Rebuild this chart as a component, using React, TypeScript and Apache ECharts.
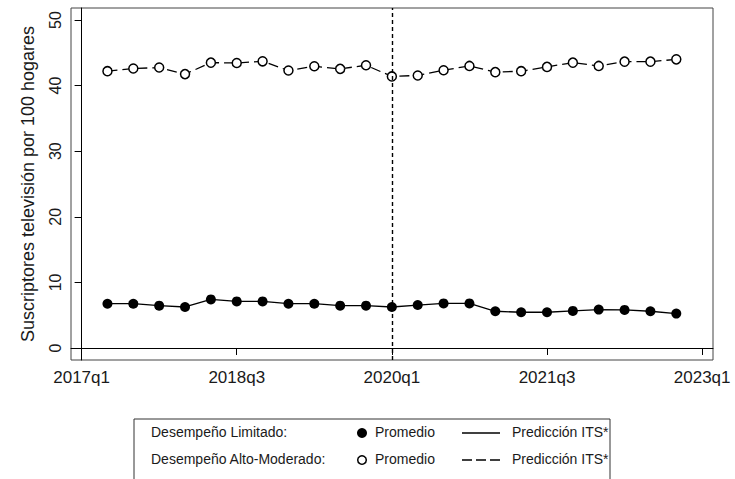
import React, { useEffect, useRef } from "react";
import * as echarts from "echarts";

// Quarters observed (2017q2 .. 2022q4)
const quarters = [
  "2017q2", "2017q3", "2017q4", "2018q1", "2018q2", "2018q3", "2018q4",
  "2019q1", "2019q2", "2019q3", "2019q4", "2020q1", "2020q2", "2020q3",
  "2020q4", "2021q1", "2021q2", "2021q3", "2021q4", "2022q1", "2022q2",
  "2022q3", "2022q4",
];

// Desempeño Limitado: promedio (filled circles)
const limitado = [
  6.75, 6.75, 6.45, 6.25, 7.4, 7.1, 7.1, 6.75, 6.75, 6.45, 6.45, 6.25,
  6.55, 6.8, 6.8, 5.6, 5.45, 5.45, 5.65, 5.85, 5.8, 5.6, 5.25,
];

// Desempeño Alto-Moderado: promedio (open circles)
const altoModerado = [
  42.2, 42.6, 42.75, 41.75, 43.5, 43.45, 43.7, 42.3, 42.95, 42.55, 43.1, 41.4,
  41.55, 42.35, 43.0, 42.05, 42.2, 42.85, 43.5, 43.0, 43.65, 43.65, 44.0,
];

// Predicción ITS lines
const prediccionLimitado = limitado;
const prediccionAltoModerado = altoModerado;

const xTickLabels = ["2017q1", "2018q3", "2020q1", "2021q3", "2023q1"];
const yTickValues = [0, 10, 20, 30, 40, 50];
const interventionQuarter = "2020q1";

const qIndex = (s: string) => {
  const y = parseInt(s.slice(0, 4), 10);
  const q = parseInt(s.slice(5), 10);
  return (y - 2017) * 4 + (q - 1);
};

const FONT = "'Liberation Sans', Arial, Helvetica, sans-serif";
const TXT = "#1a1a1a";

export default function App() {
  const ref = useRef<HTMLDivElement>(null);

  useEffect(() => {
    if (!ref.current) return;
    const chart = echarts.init(ref.current, undefined, { renderer: "svg" });

    const pts = (arr: number[]) => quarters.map((q, i) => [qIndex(q), arr[i]]);
    const xTicks = xTickLabels.map(qIndex);

    const legendRow = (y: number, filled: boolean, dashed: boolean, label: string) => [
      {
        type: "text",
        left: 151,
        top: y - 8,
        style: { text: label, font: `14px ${FONT}`, fill: TXT },
      },
      {
        type: "circle",
        shape: { cx: 362, cy: y, r: filled ? 5 : 4.3 },
        style: filled
          ? { fill: "#000" }
          : { fill: "#fff", stroke: "#000", lineWidth: 1.5 },
      },
      {
        type: "text",
        left: 375,
        top: y - 8,
        style: { text: "Promedio", font: `14px ${FONT}`, fill: TXT },
      },
      {
        type: "line",
        shape: { x1: 462, y1: y, x2: 500, y2: y },
        style: { stroke: "#000", lineWidth: 1.3, lineDash: dashed ? [10, 4] : undefined },
      },
      {
        type: "text",
        left: 512,
        top: y - 8,
        style: { text: "Predicción ITS*", font: `14px ${FONT}`, fill: TXT },
      },
    ];

    chart.setOption({
      animation: false,
      backgroundColor: "#fff",
      grid: {
        left: 71,
        right: 22,
        top: 8,
        bottom: 119,
        show: true,
        borderColor: "#444",
        borderWidth: 1,
        backgroundColor: "transparent",
      },
      xAxis: {
        type: "value",
        min: -0.41,
        max: 24.42,
        splitLine: { show: false },
        axisLine: { show: true, lineStyle: { color: "#000", width: 1 } },
        axisTick: {
          show: true,
          customValues: xTicks,
          length: 7,
          lineStyle: { color: "#000", width: 1 },
        },
        axisLabel: {
          customValues: xTicks,
          formatter: (v: number) => xTickLabels[xTicks.indexOf(Math.round(v))] ?? "",
          fontFamily: FONT,
          fontSize: 17,
          color: TXT,
          margin: 9,
        },
      },
      yAxis: {
        type: "value",
        min: -1.83,
        max: 51.83,
        splitLine: { show: false },
        axisLine: { show: true, lineStyle: { color: "#000", width: 1 } },
        axisTick: {
          show: true,
          customValues: yTickValues,
          length: 7,
          lineStyle: { color: "#000", width: 1 },
        },
        axisLabel: {
          customValues: yTickValues,
          rotate: 90,
          fontFamily: FONT,
          fontSize: 16,
          color: TXT,
          margin: 8,
        },
        name: "Suscriptores televisión por 100 hogares",
        nameLocation: "middle",
        nameGap: 34,
        nameTextStyle: { fontFamily: FONT, fontSize: 18, color: TXT },
      },
      series: [
        {
          type: "line",
          data: pts(prediccionLimitado),
          showSymbol: false,
          symbol: "none",
          lineStyle: { color: "#000", width: 1.3 },
          z: 2,
          markLine: {
            silent: true,
            symbol: "none",
            label: { show: false },
            lineStyle: { color: "#000", type: [4, 3], width: 1.4 },
            data: [{ xAxis: qIndex(interventionQuarter) }],
          },
        },
        {
          type: "line",
          data: pts(prediccionAltoModerado),
          showSymbol: false,
          symbol: "none",
          lineStyle: { color: "#000", width: 1.3, type: [10, 5] },
          z: 2,
        },
        {
          type: "scatter",
          data: pts(limitado),
          symbol: "circle",
          symbolSize: 10,
          itemStyle: { color: "#000", opacity: 1 },
          z: 3,
        },
        {
          type: "scatter",
          data: pts(altoModerado),
          symbol: "circle",
          symbolSize: 9,
          itemStyle: { color: "#fff", borderColor: "#000", borderWidth: 1.5, opacity: 1 },
          z: 3,
        },
      ],
      graphic: [
        {
          type: "rect",
          shape: { x: 134, y: 419, width: 476, height: 80 },
          style: { fill: "#fff", stroke: "#333", lineWidth: 1 },
        },
        ...legendRow(433, true, false, "Desempeño Limitado:"),
        ...legendRow(460, false, true, "Desempeño Alto-Moderado:"),
      ],
    });

    return () => chart.dispose();
  }, []);

  return (
    <div
      ref={ref}
      style={{ position: "fixed", left: 0, top: 0, width: 735, height: 479, background: "#fff" }}
    />
  );
}
